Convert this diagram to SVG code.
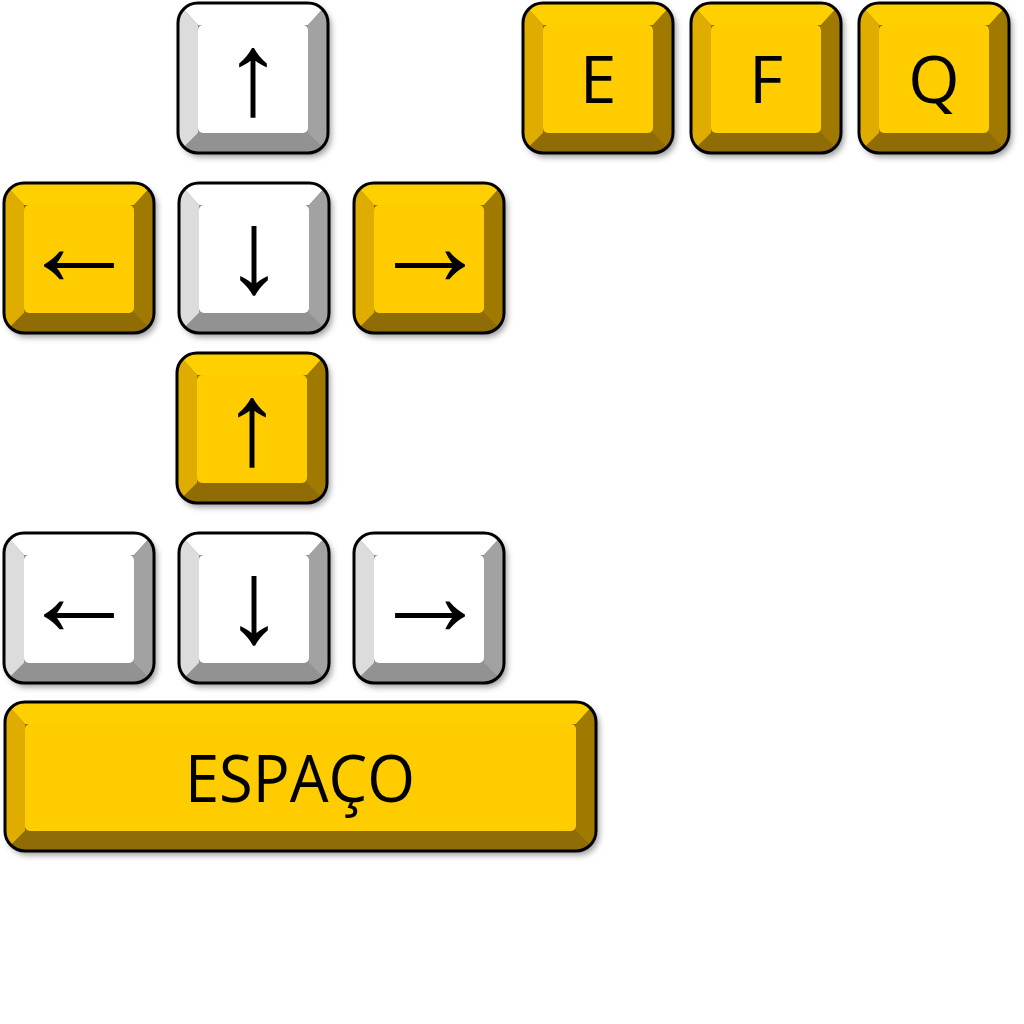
<svg xmlns="http://www.w3.org/2000/svg" xmlns:xlink="http://www.w3.org/1999/xlink" width="1024" height="1024" viewBox="0 0 1024 1024">
<defs>
<style>
.lbl{font-family:"Open Sans","Liberation Sans",sans-serif;font-size:66px;fill:#000;text-anchor:middle}
.arr{font-family:"Liberation Sans",Arial,sans-serif;font-size:118px;fill:#000;text-anchor:middle}
.edge{fill:none;stroke:#000;stroke-width:3}
</style>
<filter id="sh" x="-10%" y="-10%" width="130%" height="130%">
<feDropShadow dx="3" dy="4" stdDeviation="3" flood-color="#000" flood-opacity="0.4"/>
</filter>
<clipPath id="cK"><rect x="0" y="0" width="150" height="150" rx="20"/></clipPath>
<clipPath id="cS"><rect x="0" y="0" width="591" height="149" rx="20"/></clipPath>
<g id="kY">
<rect x="0" y="0" width="150" height="150" rx="20" fill="#8f6c00" filter="url(#sh)"/>
<g clip-path="url(#cK)">
<polygon points="0,0 150,0 130,22 20,22" fill="#ffd000"/>
<polygon points="0,0 20,22 20,130 0,150" fill="#dfad00"/>
<polygon points="150,0 150,150 130,130 130,22" fill="#a07a00"/>
<polygon points="0,150 20,130 130,130 150,150" fill="#8f6c06"/>
</g>
<rect x="20" y="22" width="110" height="108" rx="5" fill="#ffcc00"/>
<rect x="0" y="0" width="150" height="150" rx="20" class="edge"/>
</g>
<g id="kW">
<rect x="0" y="0" width="150" height="150" rx="20" fill="#909090" filter="url(#sh)"/>
<g clip-path="url(#cK)">
<polygon points="0,0 150,0 130,22 20,22" fill="#ffffff"/>
<polygon points="0,0 20,22 20,130 0,150" fill="#dcdcdc"/>
<polygon points="150,0 150,150 130,130 130,22" fill="#a2a2a2"/>
<polygon points="0,150 20,130 130,130 150,150" fill="#929292"/>
</g>
<rect x="20" y="22" width="110" height="108" rx="5" fill="#ffffff"/>
<rect x="0" y="0" width="150" height="150" rx="20" class="edge"/>
</g>
</defs>
<rect width="1024" height="1024" fill="#fff"/>

<g id="key-up-white">
<use xlink:href="#kW" x="178" y="3"/>
<text class="arr" x="253" y="114">↑</text>
</g>
<g id="key-e">
<use xlink:href="#kY" x="523" y="3"/>
<text class="lbl" x="598" y="103">E</text>
</g>
<g id="key-f">
<use xlink:href="#kY" x="691" y="3"/>
<text class="lbl" x="766" y="103">F</text>
</g>
<g id="key-q">
<use xlink:href="#kY" x="859" y="3"/>
<text class="lbl" x="934" y="103">Q</text>
</g>

<g id="key-left-yellow">
<use xlink:href="#kY" x="4" y="183"/>
<text class="arr" x="79" y="285">←</text>
</g>
<g id="key-down-white">
<use xlink:href="#kW" x="179" y="183"/>
<text class="arr" x="254" y="292">↓</text>
</g>
<g id="key-right-yellow">
<use xlink:href="#kY" x="354" y="183"/>
<text class="arr" x="430" y="285">→</text>
</g>

<g id="key-up-yellow">
<use xlink:href="#kY" x="177" y="353"/>
<text class="arr" x="252" y="464">↑</text>
</g>

<g id="key-left-white">
<use xlink:href="#kW" x="4" y="533"/>
<text class="arr" x="79" y="635">←</text>
</g>
<g id="key-down-white-2">
<use xlink:href="#kW" x="179" y="533"/>
<text class="arr" x="254" y="642">↓</text>
</g>
<g id="key-right-white">
<use xlink:href="#kW" x="354" y="533"/>
<text class="arr" x="430" y="635">→</text>
</g>

<g id="key-space">
<g transform="translate(5,702)">
<rect x="0" y="0" width="591" height="149" rx="20" fill="#8f6c00" filter="url(#sh)"/>
<g clip-path="url(#cS)">
<polygon points="0,0 591,0 571,22 20,22" fill="#ffd000"/>
<polygon points="0,0 20,22 20,129 0,149" fill="#dfad00"/>
<polygon points="591,0 591,149 571,129 571,22" fill="#a07a00"/>
<polygon points="0,149 20,129 571,129 591,149" fill="#8f6c06"/>
</g>
<rect x="20" y="22" width="551" height="107" rx="5" fill="#ffcc00"/>
<rect x="0" y="0" width="591" height="149" rx="20" class="edge"/>
</g>
<text class="lbl" x="300" y="802" textLength="230" lengthAdjust="spacingAndGlyphs">ESPAÇO</text>
</g>
</svg>
